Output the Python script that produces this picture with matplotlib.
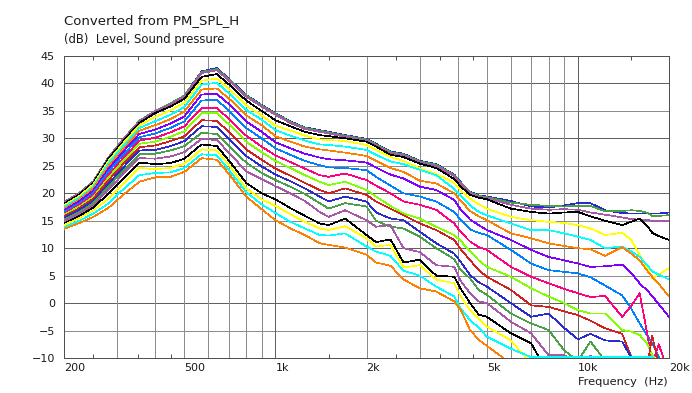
import matplotlib
matplotlib.use("Agg")
import matplotlib.pyplot as plt
from matplotlib.ticker import FixedLocator, NullFormatter

# frequency points shared by every curve (Hz)
freq_hz = [200, 225, 250, 280, 315, 355, 400, 450, 500, 570, 640, 710, 800, 900,
           1000, 1120, 1250, 1400, 1500, 1700, 2000, 2150, 2400, 2650, 3000, 3400,
           3900, 4100, 4400, 4700, 5000, 6000, 7000, 8000, 9000, 10000, 11000,
           12300, 14000, 15000, 16000, 17000, 17600, 18500, 20000]

# SPL (dB) per off-axis angle
spl_00 = [18.4, 20.1, 22.2, 26.5, 30.0, 33.2, 35.0, 36.4, 37.8, 42.2, 42.8, 40.6, 37.9, 36.1,
          34.6, 33.1, 32.0, 31.5, 31.2, 30.6, 29.9, 29.0, 27.6, 27.2, 25.9, 25.3, 23.4, 22.0, 20.3, 19.6, 19.4,
          18.6, 17.6, 17.4, 17.8, 18.2, 18.2, 16.9, 16.4, 16.3, 16.3, 16.3, 16.3, 16.3, 16.5]
spl_05 = [18.4, 20.1, 22.2, 26.5, 30.0, 33.2, 35.0, 36.4, 37.8, 42.1, 42.6, 40.5, 37.8, 36.0,
          34.5, 33.0, 31.9, 31.4, 31.1, 30.5, 29.8, 28.9, 27.5, 27.1, 25.8, 25.2, 23.3, 21.9, 20.2, 19.5, 19.3,
          18.3, 17.9, 17.7, 17.6, 17.7, 17.7, 16.7, 16.8, 16.9, 16.8, 16.4, 15.9, 15.9, 16.0]
spl_10 = [18.3, 20.0, 22.1, 26.4, 29.9, 33.1, 34.9, 36.2, 37.6, 41.9, 42.4, 40.3, 37.6, 35.8,
          34.3, 32.8, 31.7, 31.2, 30.9, 30.3, 29.6, 28.7, 27.3, 26.9, 25.6, 25.0, 23.1, 21.7, 20.0, 19.3, 19.1,
          17.9, 17.2, 17.0, 17.1, 17.0, 16.5, 16.1, 15.6, 15.3, 15.2, 15.1, 15.0, 15.0, 15.0]
spl_15 = [18.1, 19.8, 21.9, 26.2, 29.6, 32.8, 34.6, 35.8, 37.2, 41.2, 41.7, 39.6, 36.9, 35.0,
          33.3, 32.2, 31.2, 30.6, 30.4, 30.0, 29.4, 28.5, 27.0, 26.6, 25.4, 24.6, 22.6, 21.2, 19.7, 19.2, 18.9,
          17.2, 16.6, 16.3, 16.5, 16.6, 15.8, 15.0, 14.2, 14.8, 15.4, 14.0, 12.8, 12.2, 11.5]
spl_20 = [17.8, 19.5, 21.6, 25.8, 29.2, 32.4, 33.9, 35.1, 36.5, 40.5, 40.9, 38.8, 36.0, 34.2,
          32.3, 31.4, 30.5, 29.8, 29.7, 29.5, 28.8, 27.9, 26.6, 25.9, 24.5, 23.5, 21.9, 20.5, 19.0, 18.0, 17.2,
          15.7, 15.1, 14.8, 14.6, 14.2, 13.6, 12.4, 12.8, 11.5, 8.8, 6.3, 4.5, 5.2, 6.4]
spl_25 = [17.5, 19.2, 21.2, 25.4, 28.7, 31.9, 33.1, 34.3, 35.7, 39.8, 40.1, 38.0, 35.2, 33.4,
          31.5, 30.5, 29.6, 28.9, 28.8, 28.5, 27.9, 27.0, 25.8, 25.3, 24.3, 23.3, 20.8, 19.6, 17.8, 16.6, 16.0,
          14.5, 13.3, 13.3, 12.7, 12.1, 11.5, 10.0, 10.3, 9.4, 8.4, 6.8, 5.8, 5.2, 4.3]
spl_30 = [17.2, 18.9, 20.9, 24.9, 28.2, 31.4, 32.4, 33.5, 34.9, 38.9, 39.1, 37.0, 34.2, 32.4,
          30.4, 29.4, 28.5, 28.0, 27.8, 27.4, 26.8, 25.9, 24.6, 23.9, 22.3, 21.8, 20.0, 18.6, 16.8, 15.8, 15.1,
          12.7, 11.8, 10.9, 10.4, 10.0, 9.8, 8.6, 10.2, 9.0, 7.8, 5.8, 4.8, 3.5, 1.2]
spl_35 = [16.9, 18.6, 20.5, 24.4, 27.7, 30.8, 31.6, 32.7, 34.0, 38.0, 38.1, 36.0, 33.1, 31.2,
          29.3, 28.2, 27.2, 26.5, 26.2, 26.0, 25.6, 24.7, 23.4, 22.7, 21.2, 20.6, 18.8, 17.0, 15.2, 14.2, 13.3,
          11.5, 9.7, 8.4, 7.8, 7.2, 6.6, 6.7, 7.0, 5.5, 3.6, 2.2, 1.3, -0.2, -2.5]
spl_40 = [16.6, 18.2, 20.1, 23.9, 27.1, 30.2, 30.9, 31.9, 33.1, 36.9, 37.0, 34.8, 31.9, 30.0,
          28.2, 27.0, 25.9, 25.1, 24.7, 24.6, 24.2, 23.0, 21.4, 20.0, 19.4, 18.5, 16.6, 15.1, 13.4, 12.8, 12.4,
          9.7, 7.2, 6.0, 5.7, 5.4, 4.7, 3.2, 1.4, -1.0, -3.7, -6.0, -7.3, -9.8, -13.0]
spl_45 = [16.3, 17.9, 19.7, 23.3, 26.5, 29.6, 30.1, 31.1, 32.2, 35.5, 35.5, 33.3, 30.5, 28.5,
          26.9, 25.7, 24.5, 23.3, 23.0, 23.6, 22.4, 21.4, 20.0, 18.5, 17.9, 17.0, 14.5, 12.9, 11.2, 10.2, 9.7,
          6.6, 4.8, 3.6, 2.6, 1.8, 1.1, 1.3, -2.5, -0.5, 1.8, -6.0, -11.0, -7.5, -13.0]
spl_50 = [16.1, 17.6, 19.3, 22.8, 26.0, 29.0, 29.4, 30.3, 31.3, 34.6, 34.6, 32.3, 29.4, 27.5,
          25.9, 24.6, 23.3, 22.1, 21.5, 22.1, 20.6, 19.4, 17.7, 16.3, 15.4, 13.9, 12.4, 11.3, 9.4, 7.8, 6.6,
          4.8, 2.7, 1.2, 0.0, -1.3, -1.9, -1.9, -4.9, -5.2, -5.8, -7.5, -9.5, -11.0, -13.0]
spl_55 = [15.8, 17.3, 19.0, 22.3, 25.4, 28.4, 28.7, 29.5, 30.4, 33.3, 33.2, 30.9, 28.0, 26.1,
          24.5, 23.2, 21.9, 20.6, 20.0, 20.9, 19.7, 18.5, 17.2, 16.0, 14.5, 13.3, 11.5, 9.8, 7.8, 6.0, 4.8,
          2.4, -0.4, -0.7, -1.5, -2.2, -3.2, -4.6, -5.6, -9.8, -11.0, -11.0, -6.0, -11.0, -13.0]
spl_60 = [15.5, 17.0, 18.6, 21.7, 24.8, 27.8, 27.9, 28.6, 29.5, 32.2, 32.1, 29.7, 26.8, 24.9,
          23.4, 22.2, 20.9, 19.4, 18.5, 19.4, 18.5, 16.5, 15.4, 15.1, 13.0, 10.9, 9.0, 7.5, 5.1, 3.8, 3.0,
          0.0, -2.5, -1.9, -4.5, -6.6, -5.6, -6.8, -7.0, -9.9, -11.0, -12.0, -12.0, -12.0, -13.0]
spl_65 = [15.2, 16.6, 18.2, 21.2, 24.2, 27.1, 27.2, 27.8, 28.6, 31.0, 30.8, 28.3, 25.6, 23.7,
          22.4, 21.2, 19.9, 18.2, 17.2, 18.2, 17.6, 15.0, 13.9, 13.6, 12.1, 10.0, 8.0, 6.0, 4.5, 2.4, 1.5,
          -1.9, -3.7, -4.9, -8.6, -10.5, -7.0, -10.5, -11.0, -12.0, -12.0, -12.0, -12.0, -12.0, -13.0]
spl_70 = [14.9, 16.3, 17.8, 20.6, 23.6, 26.4, 26.3, 26.7, 27.5, 29.9, 29.7, 27.1, 24.0, 22.6,
          21.3, 20.0, 18.6, 16.6, 15.7, 16.9, 15.1, 13.9, 14.2, 10.0, 9.3, 6.9, 6.6, 4.0, 1.8, 0.3, 0.0,
          -3.4, -5.5, -9.5, -9.5, -10.5, -9.6, -11.0, -12.0, -12.0, -12.0, -12.0, -12.0, -12.0, -13.0]
spl_75 = [14.5, 15.9, 17.4, 19.9, 22.8, 25.6, 25.3, 25.5, 26.3, 28.9, 28.6, 25.6, 21.9, 20.0,
          18.9, 17.3, 15.9, 14.5, 14.2, 15.4, 12.4, 11.1, 11.6, 7.4, 7.9, 5.0, 4.8, 2.6, 0.0, -2.1, -2.5,
          -5.5, -7.3, -13.0, -14.0, -14.0, -14.0, -14.0, -14.0, -14.0, -14.0, -14.0, -14.0, -14.0, -14.0]
spl_80 = [14.2, 15.5, 16.9, 19.0, 21.8, 24.6, 24.4, 24.6, 25.4, 28.0, 27.8, 24.8, 20.9, 18.9,
          17.7, 16.2, 14.8, 13.6, 13.3, 14.0, 11.8, 10.3, 10.6, 6.5, 6.9, 4.3, 3.6, 1.2, -1.3, -2.8, -4.3,
          -6.8, -11.0, -14.0, -14.0, -14.0, -14.0, -14.0, -14.0, -14.0, -14.0, -14.0, -14.0, -14.0, -14.0]
spl_85 = [13.8, 15.0, 16.3, 18.1, 20.8, 23.3, 23.7, 23.8, 24.6, 27.1, 26.9, 23.9, 20.2, 18.0,
          16.4, 14.8, 13.6, 12.4, 12.3, 12.7, 10.3, 9.4, 8.6, 5.9, 5.0, 3.0, 1.2, -1.0, -3.1, -4.5, -6.1,
          -8.3, -9.85, -9.85, -9.85, -9.85, -9.85, -9.85, -9.85, -9.85, -9.85, -9.85, -9.85, -11.0, -13.0]
spl_90 = [13.5, 14.6, 15.7, 17.3, 19.8, 22.1, 22.9, 23.0, 23.9, 26.4, 26.1, 23.2, 19.4, 17.1,
          15.1, 13.6, 12.4, 10.9, 10.6, 10.1, 8.8, 7.4, 6.8, 4.3, 2.7, 2.1, 0.3, -1.3, -4.9, -6.7, -7.8,
          -11.0, -14.0, -14.0, -14.0, -14.0, -14.0, -14.0, -14.0, -14.0, -14.0, -14.0, -14.0, -14.0, -14.0]

curves = [spl_00, spl_05, spl_10, spl_15, spl_20, spl_25, spl_30, spl_35, spl_40, spl_45,
          spl_50, spl_55, spl_60, spl_65, spl_70, spl_75, spl_80, spl_85, spl_90]

palette = ["#2a2ad0", "#48a048", "#a858a8", "#000000", "#ffff00", "#00ffff",
           "#ff8000", "#8000ff", "#0080ff", "#ff0080", "#80ff00", "#d02020"]

x_labels = ["200", "500", "1k", "2k", "5k", "10k", "20k"]
x_label_pos = [200, 500, 1000, 2000, 5000, 10000, 20000]
x_grid = [300, 400, 500, 600, 700, 800, 900, 1000, 2000, 3000, 4000, 5000,
          6000, 7000, 8000, 9000, 10000]
x_minor = [250, 350, 450, 1500, 2500, 3500, 4500, 15000]

PX = 0.72  # one pixel in points at 100 dpi

W, H = 692, 393
fig = plt.figure(figsize=(W / 100, H / 100), dpi=100)
ax = fig.add_axes([64 / W, 35 / H, 605 / W, 302 / H])
ax.set_xscale("log")
ax.set_xlim(200, 20000)
ax.set_ylim(-10, 45)

# grid, darker every 10 dB and at the decades
for y in range(-5, 45, 5):
    c = "#606060" if y % 10 == 0 else "#8c8c8c"
    ax.axhline(y, color=c, lw=PX, zorder=1, antialiased=False)
for f in x_grid:
    c = "#606060" if f in (1000, 10000) else "#8c8c8c"
    ax.axvline(f, color=c, lw=PX, zorder=1, antialiased=False)

for i, vals in enumerate(curves):
    ax.plot(freq_hz, vals, color=palette[i % len(palette)], lw=0.5, zorder=3,
            antialiased=False)

for s in ax.spines.values():
    s.set_color("#505050")
    s.set_linewidth(PX)
    s.set_antialiased(False)
    s.set_zorder(2)

ax.xaxis.set_major_locator(FixedLocator(x_label_pos))
ax.set_xticklabels(x_labels)
ax.xaxis.set_minor_locator(FixedLocator(x_minor))
ax.xaxis.set_minor_formatter(NullFormatter())
ax.tick_params(axis="x", which="major", length=0, pad=3.5, labelsize=8, labelcolor="#1a1a1a")
ax.tick_params(axis="x", which="minor", direction="in", length=3, width=PX,
               color="#505050", top=True, bottom=True)
for lab in ax.get_xticklabels():
    lab.set_horizontalalignment("left")

ax.set_yticks(range(-10, 46, 5))
ax.tick_params(axis="y", which="both", length=0, pad=6.5, labelsize=8, labelcolor="#1a1a1a")

fig.text(64 / W, 1 - 21 / H, "Converted from PM_SPL_H", fontsize=9.5, va="center", color="#1a1a1a")
fig.text(64 / W, 1 - 39 / H, "(dB)  Level, Sound pressure", fontsize=8.4, va="center", color="#1a1a1a")
fig.text(668 / W, 1 - 382 / H, "Frequency  (Hz)", fontsize=8.2, va="center", ha="right", color="#1a1a1a")

fig.savefig("out.png", dpi=100, facecolor="white")
